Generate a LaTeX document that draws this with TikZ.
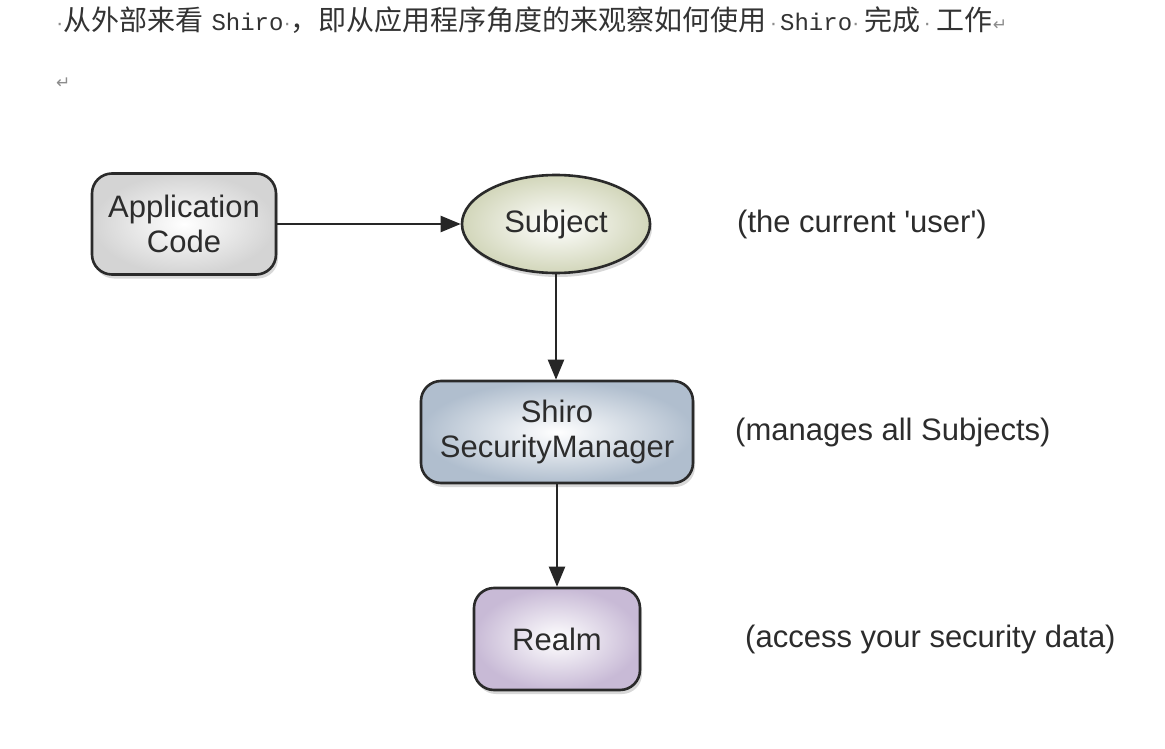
\documentclass[tikz,border=0pt]{standalone}
\usepackage{fontspec}
\setmainfont{Liberation Sans}
\newfontfamily\cjk{Noto Sans CJK SC}
\newfontfamily\monof{Liberation Mono}
\newfontfamily\dejav{DejaVu Sans}
\usetikzlibrary{arrows.meta,shapes.geometric,shadows}
\definecolor{edgec}{HTML}{2A2A2A}
\definecolor{txt}{HTML}{2C2C2C}
\newcommand{\mdt}{{\normalfont\fontsize{22}{26}\selectfont\color{black!45}·}}
\newcommand{\retmark}{{\dejav\fontsize{17}{20}\selectfont\color{black!45}↵}}
\newcommand{\cj}[1]{{\cjk\fontsize{28}{30}\selectfont #1}}
\newcommand{\mo}[1]{{\monof\fontsize{24}{28}\selectfont #1}}
\tikzset{
  box/.style={draw=edgec, line width=2.6pt, rounded corners=20pt, align=center,
    inner sep=0pt, font=\fontsize{31}{35}\selectfont, text=txt,
    drop shadow={opacity=0.3, shadow xshift=2pt, shadow yshift=-4pt}},
  note/.style={anchor=west, inner sep=0pt, font=\fontsize{31}{35}\selectfont, text=txt},
  conn/.style={draw=black!85, line width=2.2pt, -{Triangle[length=20pt,width=16pt]}},
}
\begin{document}
\begin{tikzpicture}[x=1pt,y=-1pt]
\useasboundingbox[fill=white] (0,0) rectangle (1165,749);
% header text
\node[anchor=west, inner sep=0pt, text=black!80] (head) at (56,20)
  {\mdt\cj{从外部来看}\hspace{8pt}\mo{Shiro}\mdt\cj{，即从应用程序角度的来观察如何使用}\hspace{3pt}\mdt\hspace{3pt}\mo{Shiro}\mdt\hspace{5pt}\cj{完成}\hspace{3pt}\mdt\hspace{6pt}\cj{工作}\retmark};
\node[anchor=west, inner sep=0pt] (ret) at (56,83) {\retmark};
% nodes
\node[box, minimum width=184pt, minimum height=101pt,
  shading=radial, inner color=white, outer color=black!17] (app) at (184,224) {Application\\Code};
\node[box, ellipse, rounded corners=0pt, minimum width=188pt, minimum height=98pt,
  shading=radial, inner color=white, outer color={rgb,255:red,210;green,214;blue,186}] (subj) at (556,224) {Subject};
\node[box, minimum width=272pt, minimum height=102pt,
  shading=radial, inner color=white, outer color={rgb,255:red,176;green,190;blue,206}] (sm) at (557,432) {Shiro\\SecurityManager};
\node[box, minimum width=166pt, minimum height=102pt,
  shading=radial, inner color=white, outer color={rgb,255:red,200;green,186;blue,214}] (realm) at (557,639) {Realm};
% labels
\node[note] (l1) at (737,224) {(the current \textquotesingle user\textquotesingle)};
\node[note] (l2) at (735,432) {(manages all Subjects)};
\node[note] (l3) at (745,639) {(access your security data)};
% connectors
\draw[conn] (app.east) -- (subj.west);
\draw[conn] (subj.south) -- (subj.south |- sm.north);
\draw[conn] (sm.south) -- (realm.north);
\end{tikzpicture}
\end{document}
